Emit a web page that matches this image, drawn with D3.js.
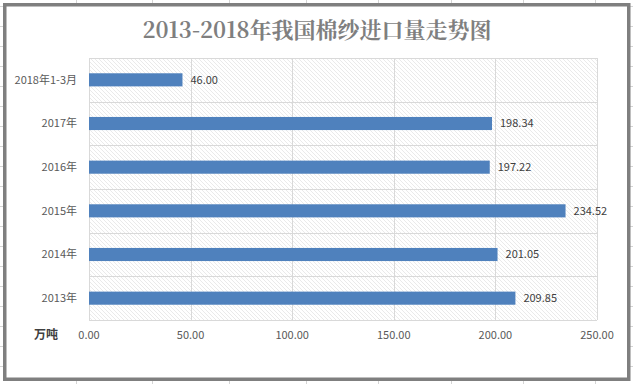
<!DOCTYPE html>
<html><head><meta charset="utf-8">
<script src="https://cdn.jsdelivr.net/npm/d3@7"></script>
<style>body{margin:0;background:#fff}svg{display:block}</style>
</head><body>
<script>
const categories = ["2013年","2014年","2015年","2016年","2017年","2018年1-3月"];
const values = [209.85, 201.05, 234.52, 197.22, 198.34, 46.00];
const xTicks = [0, 50, 100, 150, 200, 250];
const title = "2013-2018年我国棉纱进口量走势图";
const unitLabel = "万吨";

(function(){
const W = 633, H = 384;
const svg = d3.select("body").append("svg").attr("width", W).attr("height", H);

const g0 = svg.append("g");
[76,152,229,306,378,451,523,595].forEach(v=>g0.append("line").attr("x1",v+0.5).attr("x2",v+0.5).attr("y1",0).attr("y2",H).attr("stroke","#d4d4d4"));
d3.range(6,384,20).forEach(v=>g0.append("line").attr("x1",0).attr("x2",W).attr("y1",v+0.5).attr("y2",v+0.5).attr("stroke","#d4d4d4"));

svg.append("rect").attr("x",4.75).attr("y",4.75).attr("width",624).attr("height",374.5)
  .attr("fill","#fff").attr("stroke","#7f7f7f").attr("stroke-width",3.5);

const defs = svg.append("defs");
const pat = defs.append("pattern").attr("id","hatch").attr("patternUnits","userSpaceOnUse")
  .attr("width",4).attr("height",4);
pat.append("rect").attr("width",4).attr("height",4).attr("fill","#fff");
pat.append("path").attr("d","M-1,-1 L5,5 M-1,3 L1,5 M3,-1 L5,1").attr("stroke","#dcdcdc").attr("stroke-width",0.6);

const pL = 89, pR = 597, pT = 58, pB = 320;
const x = d3.scaleLinear().domain([0,250]).range([pL,pR]);
const y = d3.scaleBand().domain(categories.slice().reverse()).range([pT,pB]).paddingInner(0.7).paddingOuter(0.35);
const rows = d3.scaleBand().domain(categories.slice().reverse()).range([pT,pB]);

svg.append("rect").attr("x",pL).attr("y",pT).attr("width",pR-pL).attr("height",pB-pT).attr("fill","url(#hatch)");

const grid = svg.append("g");
xTicks.forEach(t=>grid.append("line").attr("x1",Math.round(x(t))+0.5).attr("x2",Math.round(x(t))+0.5).attr("y1",pT).attr("y2",pB).attr("stroke","#d9d9d9"));
categories.forEach(c=>grid.append("line").attr("x1",pL).attr("x2",pR).attr("y1",Math.round(rows(c))+0.5).attr("y2",Math.round(rows(c))+0.5).attr("stroke","#d9d9d9"));
grid.append("line").attr("x1",pL).attr("x2",pR).attr("y1",pB+0.5).attr("y2",pB+0.5).attr("stroke","#d9d9d9");

const font = "'Microsoft YaHei','Noto Sans CJK SC','Liberation Sans',sans-serif";

svg.append("g").selectAll("rect").data(categories).join("rect")
  .attr("x",x(0)).attr("y",d=>y(d)).attr("width",(d,i)=>x(values[i])-x(0)).attr("height",y.bandwidth())
  .attr("fill","#4f81bd");

svg.append("g").selectAll("text").data(categories).join("text")
  .attr("x",(d,i)=>x(values[i])+8).attr("y",d=>y(d)+y.bandwidth()/2).attr("dy","0.35em")
  .attr("font-family",font).attr("font-size",11).attr("fill","#404040")
  .text((d,i)=>values[i].toFixed(2));

svg.append("g").selectAll("text").data(categories).join("text")
  .attr("x",77).attr("y",d=>y(d)+y.bandwidth()/2).attr("dy","0.35em").attr("text-anchor","end")
  .attr("font-family",font).attr("font-size",11).attr("fill","#595959").text(d=>d);

svg.append("g").selectAll("text").data(xTicks).join("text")
  .attr("x",d=>x(d)).attr("y",335).attr("dy","0.35em").attr("text-anchor","middle")
  .attr("font-family",font).attr("font-size",11).attr("fill","#595959").text(d=>d.toFixed(2));

svg.append("text").attr("x",46).attr("y",335).attr("dy","0.35em").attr("text-anchor","middle")
  .attr("font-family",font).attr("font-size",12).attr("font-weight","bold").attr("fill","#404040").text(unitLabel);

svg.append("text").attr("x",317).attr("y",38).attr("text-anchor","middle")
  .attr("font-family","'Noto Serif CJK SC','DejaVu Serif','Liberation Serif','Noto Sans CJK SC',serif")
  .attr("font-size",22).attr("font-weight","bold").attr("fill","#7f7f7f").text(title);
})();
</script>
</body></html>
